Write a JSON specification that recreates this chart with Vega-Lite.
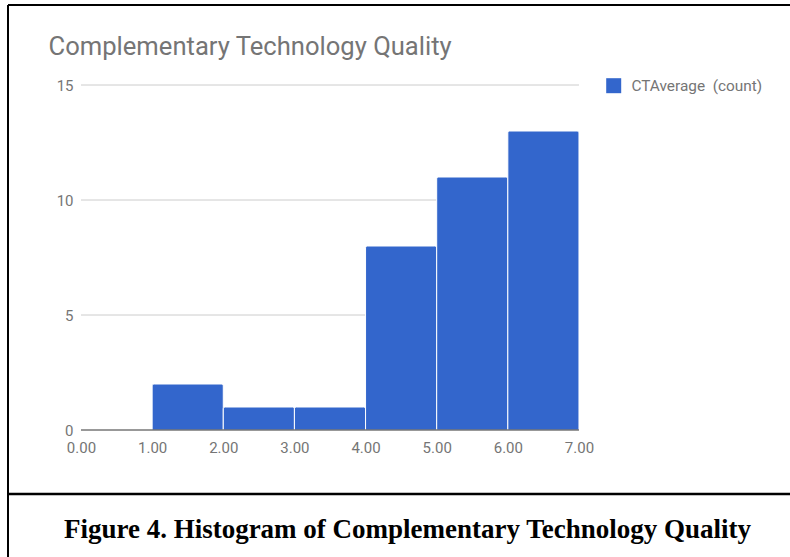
{
  "$schema": "https://vega.github.io/schema/vega-lite/v6.json",
  "width": 782,
  "height": 552,
  "autosize": {"type": "none"},
  "padding": {"left": 8, "top": 5, "right": 0, "bottom": 0},
  "background": "white",
  "config": {"view": {"stroke": null}, "font": "Roboto"},
  "datasets": {
    "bins": [
      {"start": 1, "end": 2, "count": 2, "series": "CTAverage\u00a0 (count)"},
      {"start": 2, "end": 3, "count": 1, "series": "CTAverage\u00a0 (count)"},
      {"start": 3, "end": 4, "count": 1, "series": "CTAverage\u00a0 (count)"},
      {"start": 4, "end": 5, "count": 8, "series": "CTAverage\u00a0 (count)"},
      {"start": 5, "end": 6, "count": 11, "series": "CTAverage\u00a0 (count)"},
      {"start": 6, "end": 7, "count": 13, "series": "CTAverage\u00a0 (count)"}
    ],
    "grid": [{"v": 5}, {"v": 10}, {"v": 15}],
    "one": [{"k": 1}]
  },
  "layer": [
    {
      "data": {"name": "grid"},
      "mark": {"type": "rule", "color": "#cccccc", "strokeWidth": 1},
      "encoding": {
        "y": {"field": "v", "type": "quantitative"},
        "x": {"datum": 0, "type": "quantitative"},
        "x2": {"datum": 7}
      }
    },
    {
      "data": {"name": "bins"},
      "mark": {"type": "rect", "stroke": "white", "strokeWidth": 1, "cornerRadiusTopLeft": 2, "cornerRadiusTopRight": 2},
      "encoding": {
        "x": {
          "field": "start", "type": "quantitative",
          "scale": {"domain": [-1.0261, 9.9662], "nice": false, "zero": false},
          "axis": {
            "values": [0, 1, 2, 3, 4, 5, 6, 7], "format": ".2f",
            "grid": false, "domain": false, "ticks": false, "tickSize": 0,
            "offset": -127, "labelPadding": 10, "labelFlush": false, "labelOverlap": false, "labelBound": false,
            "labelFont": "Roboto", "labelFontSize": 15, "labelColor": "#757575",
            "title": "Figure 4. Histogram of Complementary Technology Quality",
            "titleFont": "Liberation Serif", "titleFontWeight": "bold", "titleFontSize": 27, "titleColor": "#000000",
            "titleX": 399, "titleY": 107, "titleAlign": "center", "titleBaseline": "alphabetic", "titleAnchor": null
          }
        },
        "x2": {"field": "end"},
        "y": {
          "field": "count", "type": "quantitative",
          "scale": {"domain": [-5.5217, 18.4783], "nice": false, "zero": false},
          "axis": {
            "values": [0, 5, 10, 15],
            "grid": false, "domain": false, "ticks": false, "tickSize": 0,
            "offset": -73, "labelPadding": 8, "labelOverlap": false, "labelBound": false,
            "labelFont": "Roboto", "labelFontSize": 15, "labelColor": "#757575",
            "title": "Complementary Technology Quality",
            "titleFont": "Roboto", "titleFontWeight": "normal", "titleFontSize": 25.6, "titleColor": "#757575",
            "titleAngle": 0, "titleX": -33, "titleY": 49, "titleAlign": "left", "titleBaseline": "alphabetic"
          }
        },
        "y2": {"datum": 0},
        "color": {
          "field": "series", "type": "nominal",
          "scale": {"domain": ["CTAverage\u00a0 (count)"], "range": ["#3366cc"]},
          "legend": {
            "orient": "none", "legendX": 598, "legendY": 73, "title": null, "padding": 0,
            "symbolType": "square", "symbolSize": 225, "symbolStrokeWidth": 0, "symbolOpacity": 1,
            "labelFont": "Roboto", "labelFontSize": 15.4, "labelColor": "#757575", "labelOffset": 10
          }
        }
      }
    },
    {
      "data": {"name": "one"},
      "mark": {"type": "rule", "color": "#333333", "strokeWidth": 1},
      "encoding": {
        "y": {"datum": 0, "type": "quantitative"},
        "x": {"datum": 0, "type": "quantitative"},
        "x2": {"datum": 7}
      }
    },
    {
      "data": {"name": "one"},
      "mark": {"type": "rule", "color": "#000000", "strokeWidth": 2},
      "encoding": {
        "y": {"datum": 18.4783, "type": "quantitative"},
        "x": {"datum": -1.0261, "type": "quantitative"},
        "x2": {"datum": 9.9662}
      }
    },
    {
      "data": {"name": "one"},
      "mark": {"type": "rule", "color": "#000000", "strokeWidth": 2},
      "encoding": {
        "x": {"datum": -1.0261, "type": "quantitative"},
        "y": {"datum": 18.4783, "type": "quantitative"},
        "y2": {"datum": -5.5217}
      }
    },
    {
      "data": {"name": "one"},
      "mark": {"type": "rule", "color": "#000000", "strokeWidth": 2.5},
      "encoding": {
        "y": {"datum": -2.7826, "type": "quantitative"},
        "x": {"datum": -1.0261, "type": "quantitative"},
        "x2": {"datum": 9.9662}
      }
    }
  ]
}
